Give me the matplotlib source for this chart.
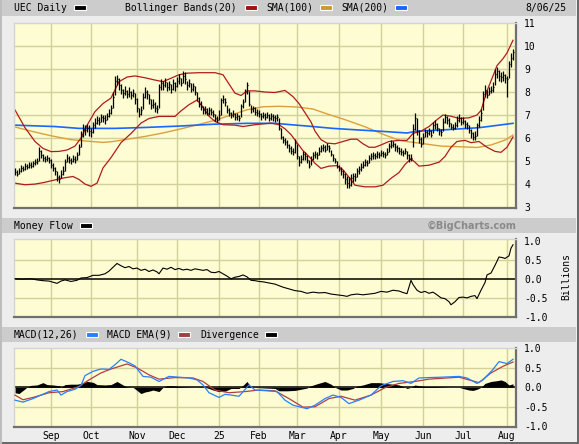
import numpy as np
import matplotlib
matplotlib.use('Agg')
import matplotlib.pyplot as plt
from matplotlib.patches import Rectangle

# daily bars, one per trading day (index 0 = early Aug 2024, 249 = 8/06/25)
close = [
    4.52, 4.45, 4.58, 4.70, 4.66, 4.78, 4.74, 4.85, 4.80, 4.90,
    4.95, 5.00, 5.45, 5.25, 5.15, 5.10, 5.12, 5.05, 4.85, 4.70,
    4.55, 4.30, 4.20, 4.45, 4.55, 4.95, 5.15, 5.05, 5.00, 5.10,
    5.05, 5.25, 5.60, 6.10, 6.40, 6.35, 6.45, 6.30, 6.25, 6.55,
    6.65, 6.80, 6.70, 6.90, 6.85, 6.80, 6.95, 7.10, 7.30, 7.80,
    8.50, 8.55, 8.30, 8.10, 7.95, 8.05, 7.90, 8.00, 7.85, 7.95,
    7.70, 7.30, 7.05, 7.20, 7.80, 8.00, 7.90, 7.70, 7.45, 7.50,
    7.30, 7.25, 8.20, 8.40, 8.30, 8.45, 8.20, 8.35, 8.15, 8.40,
    8.25, 8.50, 8.60, 8.40, 8.70, 8.55, 8.30, 8.40, 8.15, 8.25,
    8.00, 7.75, 7.50, 7.35, 7.20, 7.25, 7.10, 7.20, 7.15, 7.05,
    6.85, 6.80, 7.00, 7.65, 7.70, 7.55, 7.20, 7.10, 7.00, 7.05,
    6.90, 6.95, 6.85, 7.40, 7.55, 8.00, 8.30, 7.50, 7.25, 7.30,
    7.15, 7.10, 7.05, 6.95, 7.00, 6.90, 7.00, 6.85, 6.95, 6.90,
    6.85, 6.90, 6.45, 6.05, 5.90, 5.85, 5.70, 5.55, 5.45, 5.40,
    5.80, 5.20, 4.95, 5.10, 5.30, 5.20, 5.05, 4.80, 5.10, 5.25,
    5.30, 5.25, 5.45, 5.55, 5.60, 5.50, 5.65, 5.55, 5.30, 5.15,
    5.00, 4.80, 4.65, 4.55, 4.45, 4.20, 4.05, 3.95, 4.25, 4.35,
    4.30, 4.55, 4.65, 4.75, 4.85, 4.95, 4.90, 5.15, 5.20, 5.25,
    5.20, 5.30, 5.25, 5.35, 5.30, 5.25, 5.40, 5.65, 5.70, 5.75,
    5.60, 5.55, 5.45, 5.40, 5.35, 5.45, 5.25, 5.10, 5.15, 6.40,
    6.85, 6.30, 5.95, 5.75, 6.05, 6.25, 6.20, 6.30, 6.15, 6.55,
    6.60, 6.45, 6.30, 6.25, 6.70, 6.90, 6.80, 6.65, 6.50, 6.45,
    6.55, 6.80, 6.85, 6.70, 6.75, 6.60, 6.55, 6.35, 6.20, 6.05,
    6.10, 6.55, 6.80, 7.10, 7.90, 8.10, 7.85, 8.05, 8.10, 8.20,
    8.80, 8.90, 8.70, 8.65, 8.75, 8.60, 8.55, 9.20, 9.50, 9.75]

high = [
    4.68, 4.60, 4.70, 4.82, 4.80, 4.90, 4.88, 4.95, 4.95, 5.02,
    5.08, 5.12, 5.60, 5.50, 5.30, 5.22, 5.25, 5.18, 5.08, 4.92,
    4.75, 4.55, 4.40, 4.60, 4.80, 5.10, 5.30, 5.22, 5.15, 5.25,
    5.20, 5.40, 5.75, 6.30, 6.60, 6.55, 6.60, 6.55, 6.45, 6.70,
    6.85, 6.95, 6.90, 7.05, 7.00, 6.98, 7.10, 7.25, 7.45, 8.00,
    8.70, 8.75, 8.60, 8.35, 8.15, 8.25, 8.10, 8.20, 8.05, 8.15,
    7.95, 7.75, 7.30, 7.40, 7.95, 8.20, 8.10, 7.92, 7.70, 7.70,
    7.55, 7.45, 8.35, 8.55, 8.50, 8.60, 8.45, 8.50, 8.35, 8.55,
    8.45, 8.65, 8.80, 8.62, 8.90, 8.85, 8.50, 8.55, 8.40, 8.40,
    8.25, 8.00, 7.80, 7.60, 7.40, 7.40, 7.30, 7.35, 7.30, 7.22,
    7.05, 6.95, 7.20, 7.75, 7.85, 7.75, 7.45, 7.30, 7.15, 7.20,
    7.08, 7.10, 7.00, 7.50, 7.70, 8.15, 8.45, 8.05, 7.45, 7.40,
    7.35, 7.25, 7.20, 7.10, 7.15, 7.08, 7.12, 7.05, 7.10, 7.05,
    7.00, 7.05, 6.85, 6.45, 6.10, 6.00, 5.90, 5.75, 5.65, 5.55,
    5.95, 5.75, 5.20, 5.25, 5.45, 5.40, 5.25, 5.05, 5.22, 5.40,
    5.45, 5.40, 5.60, 5.70, 5.75, 5.68, 5.80, 5.70, 5.50, 5.30,
    5.15, 5.00, 4.85, 4.75, 4.60, 4.50, 4.35, 4.30, 4.45, 4.50,
    4.50, 4.70, 4.80, 4.90, 5.00, 5.10, 5.05, 5.25, 5.35, 5.40,
    5.35, 5.45, 5.40, 5.48, 5.45, 5.40, 5.55, 5.80, 5.90, 5.88,
    5.80, 5.70, 5.62, 5.55, 5.50, 5.58, 5.45, 5.30, 5.30, 6.60,
    7.08, 6.85, 6.35, 6.05, 6.20, 6.40, 6.35, 6.42, 6.35, 6.70,
    6.80, 6.65, 6.45, 6.40, 6.85, 7.05, 6.95, 6.85, 6.65, 6.60,
    6.70, 6.95, 7.05, 6.90, 6.90, 6.78, 6.70, 6.55, 6.38, 6.25,
    6.30, 6.65, 6.95, 7.25, 8.05, 8.30, 8.10, 8.20, 8.25, 8.45,
    9.00, 9.08, 8.95, 8.85, 8.90, 8.80, 8.70, 9.35, 9.70, 9.85]

low = [
    4.38, 4.35, 4.42, 4.52, 4.55, 4.62, 4.64, 4.70, 4.68, 4.76,
    4.82, 4.88, 5.00, 5.12, 5.02, 4.98, 5.00, 4.90, 4.70, 4.55,
    4.40, 4.15, 4.05, 4.25, 4.40, 4.55, 4.95, 4.92, 4.88, 4.95,
    4.92, 5.05, 5.25, 5.60, 6.05, 6.15, 6.25, 6.10, 6.05, 6.20,
    6.45, 6.60, 6.55, 6.70, 6.68, 6.62, 6.78, 6.92, 7.05, 7.30,
    7.85, 8.30, 8.10, 7.90, 7.75, 7.85, 7.72, 7.80, 7.70, 7.78,
    7.50, 7.15, 6.90, 7.00, 7.25, 7.75, 7.70, 7.50, 7.25, 7.30,
    7.15, 7.10, 7.30, 8.10, 8.10, 8.20, 8.05, 8.10, 7.95, 8.10,
    8.05, 8.20, 8.35, 8.25, 8.40, 8.35, 8.10, 8.20, 8.00, 8.05,
    7.85, 7.60, 7.35, 7.20, 7.05, 7.05, 6.98, 7.02, 7.00, 6.92,
    6.72, 6.68, 6.78, 7.00, 7.52, 7.40, 7.10, 6.95, 6.88, 6.90,
    6.78, 6.80, 6.72, 6.90, 7.30, 7.55, 7.90, 7.40, 7.10, 7.12,
    7.00, 6.95, 6.90, 6.80, 6.85, 6.78, 6.85, 6.72, 6.80, 6.75,
    6.70, 6.75, 6.35, 5.95, 5.80, 5.70, 5.55, 5.40, 5.30, 5.25,
    5.35, 5.10, 4.80, 4.90, 5.05, 5.05, 4.90, 4.70, 4.85, 5.05,
    5.12, 5.10, 5.25, 5.40, 5.45, 5.38, 5.48, 5.40, 5.20, 5.02,
    4.90, 4.70, 4.55, 4.40, 4.25, 4.00, 3.85, 3.82, 3.90, 4.10,
    4.15, 4.30, 4.45, 4.55, 4.70, 4.80, 4.78, 4.90, 5.05, 5.10,
    5.08, 5.15, 5.12, 5.20, 5.18, 5.12, 5.25, 5.40, 5.55, 5.60,
    5.45, 5.40, 5.32, 5.28, 5.22, 5.30, 5.10, 4.98, 5.00, 5.60,
    6.35, 6.15, 5.80, 5.60, 5.75, 6.05, 6.05, 6.12, 6.05, 6.20,
    6.40, 6.30, 6.15, 6.10, 6.30, 6.65, 6.62, 6.50, 6.38, 6.35,
    6.40, 6.50, 6.70, 6.55, 6.60, 6.45, 6.40, 6.20, 6.00, 5.90,
    5.92, 6.10, 6.50, 6.75, 7.20, 7.80, 7.75, 7.85, 7.95, 8.00,
    8.30, 8.60, 8.50, 8.45, 8.50, 8.40, 7.80, 8.60, 9.10, 9.40]

# indicator lines (day index, value)
bbu_idx = [0, 5, 10, 14, 18, 22, 26, 30, 33, 36, 40, 44, 48, 52, 56, 60, 65, 70, 74, 78,
           82, 86, 92, 100, 104, 107, 110, 113, 116, 120, 125, 130, 135, 139, 142, 145, 148,
           150, 153, 156, 160, 164, 168, 171, 174, 177, 180, 183, 187, 192, 196, 199, 203,
           207, 211, 214, 218, 222, 227, 231, 233, 236, 239, 241, 244, 246, 249]
bbu_val = [7.22, 6.45, 5.85, 5.55, 5.41, 5.42, 5.48, 5.65, 6.0, 6.55, 7.15, 7.5, 7.74, 8.45,
           8.65, 8.70, 8.62, 8.52, 8.45, 8.6, 8.75, 8.82, 8.84, 8.84, 8.75, 8.35, 7.95, 7.85,
           8.05, 8.05, 8.0, 7.98, 8.07, 7.8, 7.5, 7.1, 6.7, 6.3, 5.93, 5.78, 5.75, 5.85, 5.95,
           5.95, 5.75, 5.6, 5.6, 5.7, 5.85, 5.9, 5.9, 6.2, 6.3, 6.5, 6.8, 7.0, 6.95, 6.85, 6.88,
           7.0, 7.2, 8.05, 8.7, 9.15, 9.45, 9.7, 10.25]

bbl_idx = [0, 5, 10, 14, 19, 24, 29, 32, 35, 38, 41, 44, 48, 53, 58, 63, 67, 72, 80, 83,
           87, 91, 94, 97, 100, 104, 110, 114, 120, 128, 132, 135, 138, 141, 144, 147, 150,
           153, 157, 161, 164, 167, 170, 175, 180, 184, 188, 192, 195, 198, 200, 202, 207,
           212, 215, 218, 221, 225, 228, 232, 236, 240, 243, 246, 249]
bbl_val = [4.04, 3.97, 4.0, 4.06, 4.16, 4.26, 4.33, 4.2, 4.0, 3.9, 4.04, 4.7, 5.15, 5.8, 6.2,
           6.65, 6.85, 6.94, 6.94, 7.18, 7.45, 7.65, 7.35, 6.95, 6.72, 6.58, 6.56, 6.5, 6.58,
           6.65, 6.58, 6.4, 6.15, 5.8, 5.45, 5.2, 4.9, 4.68, 4.78, 4.8, 4.62, 4.3, 3.95, 3.88,
           3.88, 3.95, 4.25, 4.5, 4.85, 5.1, 4.95, 4.78, 4.82, 4.95, 5.2, 5.6, 5.85, 5.9, 5.8,
           5.85, 5.6, 5.42, 5.38, 5.6, 6.05]

sma100_idx = [0, 9, 18, 28, 37, 44, 49, 57, 65, 74, 82, 90, 99, 108, 116, 124, 132, 141,
              149, 157, 165, 175, 185, 193, 203, 213, 223, 231, 238, 245, 249]
sma100_val = [6.48, 6.28, 6.1, 5.93, 5.86, 5.81, 5.85, 5.96, 6.07, 6.22, 6.38, 6.55, 6.75,
              7.0, 7.23, 7.36, 7.38, 7.35, 7.26, 7.02, 6.8, 6.49, 6.13, 5.88, 5.77, 5.65,
              5.62, 5.59, 5.7, 5.91, 6.13]

sma200_idx = [0, 20, 32, 50, 65, 82, 99, 116, 130, 138, 149, 159, 170, 182, 196, 201, 215, 232, 249]
sma200_val = [6.56, 6.5, 6.42, 6.42, 6.46, 6.52, 6.6, 6.64, 6.64, 6.58, 6.5, 6.42, 6.36,
              6.3, 6.22, 6.3, 6.36, 6.45, 6.64]

mf_idx = [0, 4, 8, 11, 14, 17, 19, 21, 23, 25, 28, 31, 33, 36, 39, 42, 45, 47, 49, 51, 53,
          55, 57, 59, 61, 63, 65, 67, 69, 71, 72, 74, 76, 78, 80, 82, 84, 86, 88, 90, 92, 94,
          96, 98, 100, 102, 104, 106, 108, 110, 112, 114, 116, 118, 120, 122, 124, 126, 128,
          130, 132, 134, 136, 138, 140, 143, 146, 149, 152, 155, 158, 161, 164, 166, 168, 171,
          174, 177, 180, 183, 186, 189, 192, 194, 196, 198, 199, 201, 203, 205, 207, 209, 211,
          213, 215, 217, 218, 220, 222, 224, 226, 228, 230, 231, 233, 235, 236, 238, 240, 242,
          244, 245, 247, 248, 249]
mf_val = [0.0, -0.01, 0.0, -0.03, -0.05, -0.06, -0.09, -0.12, -0.06, -0.03, -0.07, -0.04,
          0.02, 0.03, 0.09, 0.09, 0.13, 0.2, 0.3, 0.4, 0.34, 0.29, 0.32, 0.26, 0.28, 0.22, 0.25,
          0.19, 0.23, 0.18, 0.13, 0.28, 0.25, 0.3, 0.24, 0.27, 0.23, 0.25, 0.22, 0.26, 0.24,
          0.22, 0.24, 0.17, 0.16, 0.19, 0.13, 0.07, 0.0, 0.04, 0.06, 0.1, 0.05, -0.04, -0.05,
          -0.07, -0.08, -0.1, -0.12, -0.14, -0.18, -0.22, -0.25, -0.28, -0.31, -0.33, -0.38,
          -0.35, -0.37, -0.36, -0.4, -0.42, -0.44, -0.46, -0.42, -0.4, -0.42, -0.4, -0.38,
          -0.33, -0.35, -0.3, -0.32, -0.36, -0.39, -0.04, -0.15, -0.3, -0.36, -0.33, -0.38,
          -0.35, -0.42, -0.5, -0.52, -0.6, -0.68, -0.6, -0.49, -0.48, -0.5, -0.46, -0.44,
          -0.52, -0.3, -0.1, 0.1, 0.15, 0.35, 0.57, 0.55, 0.53, 0.6, 0.8, 0.89]

macd_idx = [0, 4, 9, 13, 17, 21, 23, 26, 30, 33, 35, 39, 43, 47, 50, 53, 57, 60, 64, 68, 72,
            77, 82, 87, 91, 94, 97, 102, 105, 108, 112, 117, 120, 126, 131, 135, 139, 143,
            146, 150, 155, 159, 163, 167, 172, 178, 183, 189, 194, 198, 202, 207, 213, 222,
            226, 231, 234, 239, 242, 246, 249]
macd_val = [-0.33, -0.38, -0.29, -0.2, -0.11, -0.07, -0.2, -0.11, -0.05, 0.05, 0.3, 0.41,
            0.47, 0.46, 0.58, 0.72, 0.63, 0.55, 0.28, 0.26, 0.15, 0.28, 0.26, 0.24, 0.19,
            0.06, -0.14, -0.26, -0.18, -0.2, -0.23, 0.06, -0.07, -0.09, -0.11, -0.33, -0.46,
            -0.51, -0.55, -0.46, -0.29, -0.2, -0.26, -0.42, -0.33, -0.2, 0.04, 0.15, 0.17,
            0.1, 0.24, 0.25, 0.26, 0.28, 0.24, 0.1, 0.19, 0.46, 0.66, 0.61, 0.72]

sig_idx = [0, 4, 9, 17, 24, 32, 37, 43, 48, 56, 61, 67, 72, 80, 89, 94, 100, 107, 115, 122,
           130, 137, 144, 150, 157, 163, 170, 178, 185, 192, 200, 207, 222, 227, 232, 238, 244, 249]
sig_val = [-0.2, -0.32, -0.26, -0.14, -0.11, 0.02, 0.19, 0.37, 0.47, 0.6, 0.5, 0.32, 0.21,
           0.25, 0.24, 0.15, -0.07, -0.14, -0.11, -0.07, -0.09, -0.29, -0.51, -0.5, -0.29,
           -0.23, -0.33, -0.2, -0.01, 0.1, 0.15, 0.21, 0.26, 0.19, 0.12, 0.37, 0.54, 0.65]

div_idx = [0, 2, 4, 6, 8, 11, 14, 16, 19, 22, 23, 25, 28, 31, 33, 36, 39, 41, 45, 48, 51, 54,
           56, 59, 61, 63, 65, 67, 69, 72, 74, 76, 79, 82, 86, 90, 94, 97, 99, 102, 105, 108,
           112, 114, 116, 118, 122, 126, 130, 132, 136, 140, 143, 146, 148, 151, 155, 158,
           160, 163, 166, 169, 171, 174, 178, 182, 185, 189, 192, 195, 196, 198, 200, 202,
           205, 210, 214, 218, 222, 224, 227, 229, 231, 233, 235, 238, 241, 243, 245, 247, 249]
div_val = [-0.14, -0.16, -0.08, 0.0, 0.05, 0.06, 0.12, 0.07, 0.06, 0.04, 0.0, 0.07, 0.08, 0.08,
           0.1, 0.15, 0.13, 0.07, 0.06, 0.07, 0.15, 0.06, 0.01, 0.0, -0.08, -0.16, -0.12,
           -0.1, -0.07, -0.11, 0.0, 0.04, 0.04, 0.02, 0.01, 0.0, 0.01, -0.03, -0.07, -0.11,
           -0.1, -0.03, -0.03, 0.05, 0.15, 0.0, -0.01, -0.02, -0.03, -0.09, -0.09, -0.08,
           -0.05, -0.02, 0.04, 0.09, 0.15, 0.08, 0.0, -0.07, -0.07, -0.03, 0.03, 0.06, 0.12,
           0.12, 0.1, 0.08, 0.06, 0.0, -0.03, 0.0, 0.06, 0.04, 0.02, 0.02, 0.01, 0.0, 0.0,
           -0.03, -0.07, -0.08, -0.05, 0.0, 0.1, 0.15, 0.17, 0.19, 0.15, 0.06, 0.09]

month_idx = [18, 38, 61, 81, 102, 122, 141, 162, 183, 204, 224, 246]
month_lbl = ['Sep', 'Oct', 'Nov', 'Dec', '25', 'Feb', 'Mar', 'Apr', 'May', 'Jun', 'Jul', 'Aug']

W, H = 579, 444
BG = '#fdfcd2'
GRID = '#d3d09a'


def fx(px):
    return px / W


def fy(py):
    return 1 - py / H


plt.rcParams['font.family'] = 'DejaVu Sans Mono'
plt.rcParams['font.size'] = 7

fig = plt.figure(figsize=(W / 100, H / 100), dpi=100, facecolor='#ededed')


def header(y0, y1):
    fig.patches.append(Rectangle((fx(2), fy(y1)), fx(576) - fx(2), (y1 - y0) / H,
                                 transform=fig.transFigure, facecolor='#cccccc',
                                 edgecolor='none', zorder=0))


def swatch(x, y, color):
    fig.patches.append(Rectangle((fx(x), fy(y + 2.5)), 12 / W, 5 / H,
                                 transform=fig.transFigure, facecolor=color,
                                 edgecolor='white', lw=0.8, zorder=2))


def panel(top, bottom, ylim, hlines):
    ax = fig.add_axes([fx(14), fy(bottom), (516 - 14) / W, (bottom - top) / H])
    ax.set_facecolor(BG)
    ax.set_xlim(-0.5, 250.5)
    ax.set_ylim(*ylim)
    for s in ['top', 'left']:
        ax.spines[s].set_color('#d4d4d4')
        ax.spines[s].set_linewidth(1)
    for s in ['bottom', 'right']:
        ax.spines[s].set_color('#707070')
        ax.spines[s].set_linewidth(1.6)
    ax.yaxis.tick_right()
    ax.tick_params(length=0, pad=6, labelsize=7)
    ax.set_xticks(month_idx)
    ax.set_xticklabels([])
    for m in month_idx:
        ax.axvline(m, color=GRID, lw=1, zorder=0.5)
    for h in hlines:
        ax.axhline(h, color=GRID, lw=1, zorder=0.5)
    return ax


# --- price panel
header(0, 16)
ax1 = panel(23, 208, (2.96, 11.0), [4, 5, 6, 7, 8, 9, 10])
ax1.set_yticks(range(3, 12))
ax1.set_yticklabels([str(v) for v in range(3, 12)])
days = np.arange(len(close))
ax1.plot(sma100_idx, sma100_val, color='#d9a040', lw=1, zorder=2)
ax1.plot(sma200_idx, sma200_val, color='#1a66ff', lw=1.2, zorder=2)
ax1.plot(bbu_idx, bbu_val, color='#b01c1c', lw=0.9, zorder=2)
ax1.plot(bbl_idx, bbl_val, color='#b01c1c', lw=0.9, zorder=2)
ax1.vlines(days, low, high, color='black', lw=0.9, zorder=3)
ax1.hlines(close, days, days + 0.6, color='black', lw=0.9, zorder=3)

fig.text(fx(14), fy(8), 'UEC Daily', va='center', ha='left')
swatch(74, 8, 'black')
fig.text(fx(125), fy(8), 'Bollinger Bands(20)', va='center', ha='left')
swatch(245, 8, '#a01010')
fig.text(fx(266), fy(8), 'SMA(100)', va='center', ha='left')
swatch(320, 8, '#cc9933')
fig.text(fx(341), fy(8), 'SMA(200)', va='center', ha='left')
swatch(395, 8, '#1a66ff')
fig.text(fx(566), fy(8), '8/06/25', va='center', ha='right')

# --- money flow panel
header(218, 233)
ax2 = panel(239, 317, (-1.0, 1.04), [-0.5, 0.5])
ax2.axhline(0, color='black', lw=1.1, zorder=1)
ax2.plot(mf_idx, mf_val, color='black', lw=0.8, zorder=3)
ax2.set_yticks([-1, -0.5, 0, 0.5, 1])
ax2.set_yticklabels(['-1.0', '-0.5', '0.0', '0.5', '1.0'])
fig.text(fx(14), fy(225.5), 'Money Flow', va='center', ha='left')
swatch(80, 225.5, 'black')
fig.text(fx(516), fy(225.5), '©BigCharts.com', va='center', ha='right',
         family='DejaVu Sans', weight='bold', size=7, color='#8a8a8a')
fig.text(fx(566), fy(276), 'Billions', rotation=90, va='center', ha='center')

# --- MACD panel
header(327, 342)
ax3 = panel(348, 427, (-1.02, 1.01), [-0.5, 0.5])
ax3.fill_between(div_idx, 0, div_val, color='black', lw=0, zorder=2)
ax3.axhline(0, color='black', lw=1.1, zorder=2)
ax3.plot(sig_idx, sig_val, color='#b04040', lw=0.9, zorder=3)
ax3.plot(macd_idx, macd_val, color='#2a7fff', lw=0.9, zorder=4)
ax3.set_yticks([-1, -0.5, 0, 0.5, 1])
ax3.set_yticklabels(['-1.0', '-0.5', '0.0', '0.5', '1.0'])
ax3.set_xticklabels(month_lbl)
ax3.tick_params(axis='x', pad=3)
fig.text(fx(14), fy(334.5), 'MACD(12,26)', va='center', ha='left')
swatch(86, 334.5, '#2a7fff')
fig.text(fx(107), fy(334.5), 'MACD EMA(9)', va='center', ha='left')
swatch(178, 334.5, '#a04040')
fig.text(fx(200), fy(334.5), 'Divergence', va='center', ha='left')
swatch(265, 334.5, 'black')

# outer frame
fig.patches.append(Rectangle((fx(577), 0), 2 / W, 1, transform=fig.transFigure,
                             facecolor='#6a6a6a', edgecolor='none'))
fig.patches.append(Rectangle((0, 0), 1, 2 / H, transform=fig.transFigure,
                             facecolor='#6a6a6a', edgecolor='none'))
fig.patches.append(Rectangle((0, 0), 1.5 / W, 1, transform=fig.transFigure,
                             facecolor='#bdbdbd', edgecolor='none'))

fig.savefig('out.png', dpi=100, facecolor=fig.get_facecolor())
